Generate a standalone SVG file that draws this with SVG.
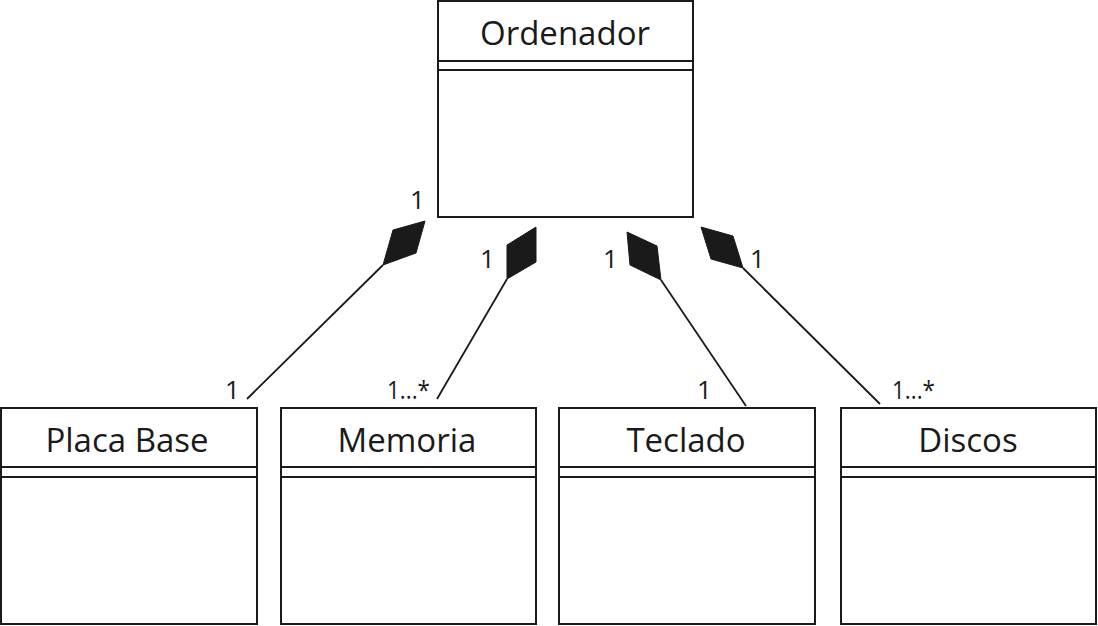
<svg xmlns="http://www.w3.org/2000/svg" width="1098" height="626" viewBox="0 0 1098 626">
<style>
.box{fill:#fff;stroke:#1a1a1a;stroke-width:2}
.div{stroke:#1a1a1a;stroke-width:2}
.name{font-family:"Open Sans","Noto Sans",sans-serif;font-size:33px;fill:#1a1a1a;text-anchor:middle}
.mult{font-family:"Open Sans","Noto Sans",sans-serif;font-size:26px;fill:#1a1a1a}
.conn line{stroke:#1a1a1a;stroke-width:1.8}
.conn polygon{fill:#1a1a1a;stroke:#1a1a1a;stroke-width:1}
</style>
<rect width="1098" height="626" fill="#fff"/>
<g id="connectors" class="conn">
<line x1="247" y1="399" x2="383" y2="265"/>
<polygon points="425,221 416,253 383,265 393,230"/>
<line x1="437" y1="399" x2="507" y2="279"/>
<polygon points="536,227 536,262 507,279 507,245"/>
<line x1="746" y1="406" x2="661" y2="280"/>
<polygon points="627,232 657,246 661,280 630,265"/>
<line x1="880" y1="404" x2="743" y2="268"/>
<polygon points="701,227 733,236 743,268 711,259"/>
</g>
<g id="labels">
<text class="mult" x="410" y="209">1</text>
<text class="mult" x="480" y="268">1</text>
<text class="mult" x="603" y="268">1</text>
<text class="mult" x="750" y="268">1</text>
<text class="mult" x="225" y="399">1</text>
<text class="mult" x="387" y="399" textLength="43" lengthAdjust="spacingAndGlyphs">1...*</text>
<text class="mult" x="697" y="399">1</text>
<text class="mult" x="892" y="399" textLength="43" lengthAdjust="spacingAndGlyphs">1...*</text>
</g>
<g id="ordenador">
<rect class="box" x="438" y="1" width="255" height="216"/>
<line class="div" x1="438" y1="61" x2="693" y2="61"/>
<line class="div" x1="438" y1="70" x2="693" y2="70"/>
<text class="name" x="565" y="45">Ordenador</text>
</g>
<g id="placa-base">
<rect class="box" x="1" y="408" width="256" height="216"/>
<line class="div" x1="1" y1="467" x2="257" y2="467"/>
<line class="div" x1="1" y1="477" x2="257" y2="477"/>
<text class="name" x="127" y="452">Placa Base</text>
</g>
<g id="memoria">
<rect class="box" x="281" y="408" width="255" height="216"/>
<line class="div" x1="281" y1="467" x2="536" y2="467"/>
<line class="div" x1="281" y1="477" x2="536" y2="477"/>
<text class="name" x="407" y="452">Memoria</text>
</g>
<g id="teclado">
<rect class="box" x="559" y="408" width="256" height="216"/>
<line class="div" x1="559" y1="467" x2="815" y2="467"/>
<line class="div" x1="559" y1="477" x2="815" y2="477"/>
<text class="name" x="686" y="452">Teclado</text>
</g>
<g id="discos">
<rect class="box" x="841" y="408" width="255" height="216"/>
<line class="div" x1="841" y1="467" x2="1096" y2="467"/>
<line class="div" x1="841" y1="477" x2="1096" y2="477"/>
<text class="name" x="968" y="452">Discos</text>
</g>
</svg>
